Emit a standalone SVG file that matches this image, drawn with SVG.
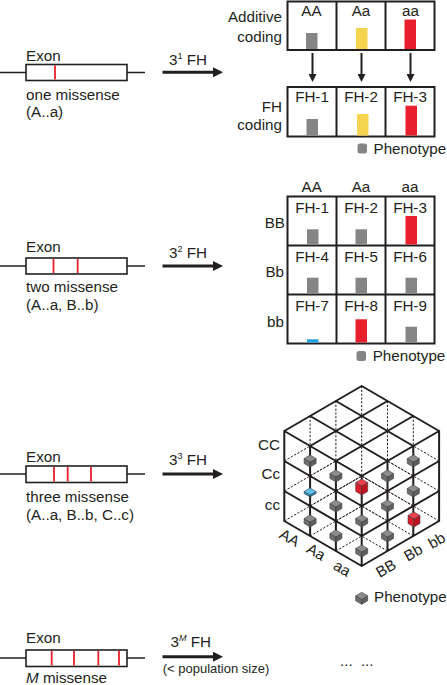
<svg xmlns="http://www.w3.org/2000/svg" width="447" height="685" viewBox="0 0 447 685">
<defs>
<style>
text { font-family: "Liberation Sans", Arial, sans-serif; font-size: 15.2px; fill: #231f20; }
.box { fill: #fff; stroke: #231f20; stroke-width: 2; }
.div { stroke: #231f20; stroke-width: 2; }
.exon { fill: #fff; stroke: #231f20; stroke-width: 1.6; }
.intron { stroke: #231f20; stroke-width: 1.6; }
.mut { stroke: #e8202a; stroke-width: 1.8; }
.gray { fill: #858585; }
.yel { fill: #f5d54f; }
.red { fill: #e81f2d; }
.blue { fill: #1ca3e0; }
.solid { stroke: #231f20; stroke-width: 2; fill: none; stroke-linecap: round; }
.dash { stroke: #231f20; stroke-width: 1; stroke-dasharray: 2.2 1.6; fill: none; }
.bigarrow { stroke: #231f20; stroke-width: 3; marker-end: url(#ah); }
.smallarrow { stroke: #231f20; stroke-width: 2; marker-end: url(#ah2); }
.mid { text-anchor: middle; }
.end { text-anchor: end; }
.sm { font-size: 13px; }
.mk { stroke: #3e3e3e; stroke-width: 0.6; stroke-linejoin: round; }
</style>
<marker id="ah" viewBox="0 0 10 10" refX="1" refY="5" markerWidth="10" markerHeight="10" markerUnits="userSpaceOnUse" orient="auto"><path d="M0,0 L10,5 L0,10 Z" fill="#231f20"/></marker>
<marker id="ah2" viewBox="0 0 8 8" refX="1" refY="4" markerWidth="8" markerHeight="8" markerUnits="userSpaceOnUse" orient="auto"><path d="M0,0 L8,4 L0,8 Z" fill="#231f20"/></marker>
<g id="mg" class="mk">
<polygon points="0,0 -6,-3.5 -6,-8.5 0,-5" fill="#6e6e6e"/>
<polygon points="0,0 6,-3.5 6,-8.5 0,-5" fill="#5e5e5e"/>
<polygon points="0,-5 -6,-8.5 0,-12 6,-8.5" fill="#8c8c8c"/>
</g>
<g id="mrt" class="mk">
<polygon points="0,0 -6,-3.5 -6,-12.5 0,-9" fill="#dc1c2a"/>
<polygon points="0,0 6,-3.5 6,-12.5 0,-9" fill="#c2121f"/>
<polygon points="0,-9 -6,-12.5 0,-16 6,-12.5" fill="#f0404c"/>
</g>
<g id="mr" class="mk">
<polygon points="0,0 -6,-3.5 -6,-11.5 0,-8" fill="#dc1c2a"/>
<polygon points="0,0 6,-3.5 6,-11.5 0,-8" fill="#c2121f"/>
<polygon points="0,-8 -6,-11.5 0,-15 6,-11.5" fill="#f0404c"/>
</g>
<g id="mb" class="mk">
<polygon points="0,0 -6,-3.5 -6,-5.5 0,-2" fill="#1f9fd8"/>
<polygon points="0,0 6,-3.5 6,-5.5 0,-2" fill="#1888c0"/>
<polygon points="0,-2 -6,-5.5 0,-9 6,-5.5" fill="#5cc3ee"/>
</g>
</defs>
<rect width="447" height="685" fill="#fff"/>

<!-- Section 1 -->
<g id="exon1">
<line class="intron" x1="0" y1="72.5" x2="145" y2="72.5"/>
<rect class="exon" x="26" y="64.5" width="101" height="16"/>
<line class="mut" x1="55" y1="65.5" x2="55" y2="79.5"/>
<text x="26" y="61">Exon</text>
<text x="26" y="100">one missense</text>
<text x="26" y="117">(A..a)</text>
</g>
<g id="label1"><text x="169" y="65">3<tspan font-size="9" dy="-6">1</tspan><tspan dy="6"> FH</tspan></text></g>
<g id="additive">
<rect class="box" x="287.5" y="1.5" width="147" height="48.5"/>
<line class="div" x1="336.5" y1="1.5" x2="336.5" y2="50"/>
<line class="div" x1="385.5" y1="1.5" x2="385.5" y2="50"/>
<text class="mid" x="311.5" y="16">AA</text>
<text class="mid" x="361" y="16">Aa</text>
<text class="mid" x="410.5" y="16">aa</text>
<rect class="gray" x="306" y="33" width="11.5" height="16"/>
<rect class="yel" x="356" y="28" width="11.5" height="21"/>
<rect class="red" x="404.5" y="19.5" width="11.5" height="29.5"/>
<text class="end" x="282" y="22">Additive</text>
<text class="end" x="282" y="42">coding</text>
</g>
<g id="fhcoding">
<rect class="box" x="287.5" y="87" width="147" height="49.5"/>
<line class="div" x1="336.5" y1="87" x2="336.5" y2="136.5"/>
<line class="div" x1="385.5" y1="87" x2="385.5" y2="136.5"/>
<text class="mid" x="312" y="102">FH-1</text>
<text class="mid" x="361" y="102">FH-2</text>
<text class="mid" x="410" y="102">FH-3</text>
<rect class="gray" x="306.5" y="119" width="11.5" height="16.5"/>
<rect class="yel" x="357" y="114" width="11.5" height="21.5"/>
<rect class="red" x="405.5" y="105.7" width="11.5" height="29.8"/>
<text class="end" x="282" y="112">FH</text>
<text class="end" x="282" y="130">coding</text>
</g>
<g id="legend1">
<rect class="gray" x="357.5" y="143.5" width="9.5" height="10" rx="2.5"/>
<text x="373.5" y="153.5">Phenotype</text>
</g>

<!-- Section 2 -->
<g id="exon2">
<line class="intron" x1="0" y1="266" x2="145" y2="266"/>
<rect class="exon" x="26" y="258" width="101" height="16"/>
<line class="mut" x1="53.5" y1="259" x2="53.5" y2="273"/>
<line class="mut" x1="77.7" y1="259" x2="77.7" y2="273"/>
<text x="26" y="252">Exon</text>
<text x="26" y="291.7">two missense</text>
<text x="26" y="310">(A..a, B..b)</text>
</g>
<g id="label2"><text x="169" y="257.7">3<tspan font-size="9" dy="-6">2</tspan><tspan dy="6"> FH</tspan></text></g>
<g id="grid2">
<rect class="box" x="287.5" y="196.5" width="147" height="147"/>
<line class="div" x1="336.5" y1="196.5" x2="336.5" y2="343.5"/>
<line class="div" x1="385.5" y1="196.5" x2="385.5" y2="343.5"/>
<line class="div" x1="287.5" y1="245.5" x2="434.5" y2="245.5"/>
<line class="div" x1="287.5" y1="294.5" x2="434.5" y2="294.5"/>
<text class="mid" x="311.7" y="191.7">AA</text>
<text class="mid" x="361" y="191.7">Aa</text>
<text class="mid" x="410" y="191.7">aa</text>
<text class="end" x="285" y="228.3">BB</text>
<text class="end" x="284" y="277">Bb</text>
<text class="end" x="284" y="326.7">bb</text>
<text class="mid" x="312" y="213">FH-1</text>
<text class="mid" x="361" y="213">FH-2</text>
<text class="mid" x="410" y="213">FH-3</text>
<text class="mid" x="312" y="262">FH-4</text>
<text class="mid" x="361" y="262">FH-5</text>
<text class="mid" x="410" y="262">FH-6</text>
<text class="mid" x="312" y="311">FH-7</text>
<text class="mid" x="361" y="311">FH-8</text>
<text class="mid" x="410" y="311">FH-9</text>
<rect class="gray" x="307" y="229.3" width="11.5" height="15.2"/>
<rect class="gray" x="355.5" y="229.3" width="11.5" height="15.2"/>
<rect class="red" x="405.5" y="216" width="11.5" height="28.5"/>
<rect class="gray" x="307" y="277.7" width="11.5" height="15.8"/>
<rect class="gray" x="355.5" y="277.7" width="11.5" height="15.8"/>
<rect class="gray" x="405.5" y="277.7" width="11.5" height="15.8"/>
<rect class="blue" x="307" y="339.3" width="11.5" height="3.2"/>
<rect class="red" x="355.5" y="319.3" width="11.5" height="23.2"/>
<rect class="gray" x="405.5" y="326.7" width="11.5" height="15.8"/>
</g>
<g id="legend2">
<rect class="gray" x="356.5" y="351" width="9.5" height="10" rx="2.5"/>
<text x="372.7" y="360.5">Phenotype</text>
</g>

<!-- Section 3 -->
<g id="exon3">
<line class="intron" x1="0" y1="474" x2="145" y2="474"/>
<rect class="exon" x="26" y="466" width="101" height="16.5"/>
<line class="mut" x1="54" y1="467" x2="54" y2="481.5"/>
<line class="mut" x1="67.7" y1="467" x2="67.7" y2="481.5"/>
<line class="mut" x1="91" y1="467" x2="91" y2="481.5"/>
<text x="26" y="461.7">Exon</text>
<text x="26" y="501.7">three missense</text>
<text x="26" y="520">(A..a, B..b, C..c)</text>
</g>
<g id="label3"><text x="169" y="465">3<tspan font-size="9" dy="-6">3</tspan><tspan dy="6"> FH</tspan></text></g>
<g id="cube">
<path class="dash" d="M361.7,386V536 M387.5,401V521 M413.3,416V506 M335.9,401V521 M310.1,416V506
M387.5,551L310.1,506 M387.5,521L310.1,476 M387.5,491L310.1,446
M413.3,536L335.9,491 M413.3,506L335.9,461 M413.3,476L335.9,431
M439.1,521L361.7,476 M439.1,491L361.7,446 M439.1,461L361.7,416
M335.9,551L413.3,506 M335.9,521L413.3,476 M335.9,491L413.3,446
M310.1,536L387.5,491 M310.1,506L387.5,461 M310.1,476L387.5,431
M284.3,521L361.7,476 M284.3,491L361.7,446 M284.3,461L361.7,416"/>
<path class="solid" d="M361.7,566V476 M387.5,551V461 M413.3,536V446 M439.1,521V431 M335.9,551V461 M310.1,536V446 M284.3,521V431
M361.7,566L284.3,521 M361.7,536L284.3,491 M361.7,506L284.3,461 M361.7,476L284.3,431
M387.5,461L310.1,416 M413.3,446L335.9,401 M439.1,431L361.7,386
M361.7,566L439.1,521 M361.7,536L439.1,491 M361.7,506L439.1,461 M361.7,476L439.1,431
M335.9,461L413.3,416 M310.1,446L387.5,401 M284.3,431L361.7,386"/>
<use href="#mg" x="310.1" y="467"/>
<use href="#mb" x="310.1" y="497"/>
<use href="#mg" x="310.1" y="527"/>
<use href="#mg" x="335.9" y="482"/>
<use href="#mg" x="335.9" y="512"/>
<use href="#mg" x="335.9" y="542"/>
<use href="#mrt" x="361.7" y="495"/>
<use href="#mg" x="361.7" y="527"/>
<use href="#mg" x="361.7" y="557"/>
<use href="#mg" x="387.5" y="482"/>
<use href="#mg" x="387.5" y="512"/>
<use href="#mg" x="387.5" y="542"/>
<use href="#mg" x="413.3" y="467"/>
<use href="#mg" x="413.3" y="497"/>
<use href="#mr" x="414" y="527"/>
<text class="end" x="280" y="450">CC</text>
<text class="end" x="280" y="479">Cc</text>
<text class="end" x="280" y="510">cc</text>
<text class="mid" transform="translate(289.5,538) rotate(30)" y="5">AA</text>
<text class="mid" transform="translate(316,552) rotate(30)" y="5">Aa</text>
<text class="mid" transform="translate(342,568.5) rotate(30)" y="5">aa</text>
<text class="mid" transform="translate(386,568.5) rotate(-30)" y="5">BB</text>
<text class="mid" transform="translate(413.3,552.7) rotate(-30)" y="5">Bb</text>
<text class="mid" transform="translate(436.7,540.7) rotate(-30)" y="5">bb</text>
</g>
<g id="legend3">
<use href="#mg" x="361.7" y="604.3"/>
<text x="374" y="602.3">Phenotype</text>
</g>

<!-- Section 4 -->
<g id="exon4">
<line class="intron" x1="0" y1="658" x2="145" y2="658"/>
<rect class="exon" x="26" y="650" width="101" height="16.5"/>
<line class="mut" x1="51.7" y1="651" x2="51.7" y2="665.5"/>
<line class="mut" x1="74" y1="651" x2="74" y2="665.5"/>
<line class="mut" x1="98.3" y1="651" x2="98.3" y2="665.5"/>
<line class="mut" x1="119" y1="651" x2="119" y2="665.5"/>
<text x="26" y="642.7">Exon</text>
<text x="26" y="683.3"><tspan font-style="italic">M</tspan> missense</text>
</g>
<g id="label4">
<text x="170.5" y="646.7">3<tspan font-size="9" font-style="italic" dy="-6">M</tspan><tspan dy="6"> FH</tspan></text>
<text class="sm" x="162.7" y="672.7">(&lt; population size)</text>
</g>
<g id="ellipsis"><text x="340" y="666" word-spacing="4">... ...</text></g>

<!-- Connectors -->
<g id="connectors">
<line class="bigarrow" x1="162.5" y1="72.3" x2="214" y2="72.3"/>
<line class="bigarrow" x1="162.5" y1="266" x2="214" y2="266"/>
<line class="bigarrow" x1="162.5" y1="474" x2="214" y2="474"/>
<line class="bigarrow" x1="162.5" y1="656.7" x2="214" y2="656.7"/>
<line class="smallarrow" x1="312.5" y1="53" x2="312.5" y2="75"/>
<line class="smallarrow" x1="361.5" y1="53" x2="361.5" y2="75"/>
<line class="smallarrow" x1="410.5" y1="53" x2="410.5" y2="75"/>
</g>
</svg>
